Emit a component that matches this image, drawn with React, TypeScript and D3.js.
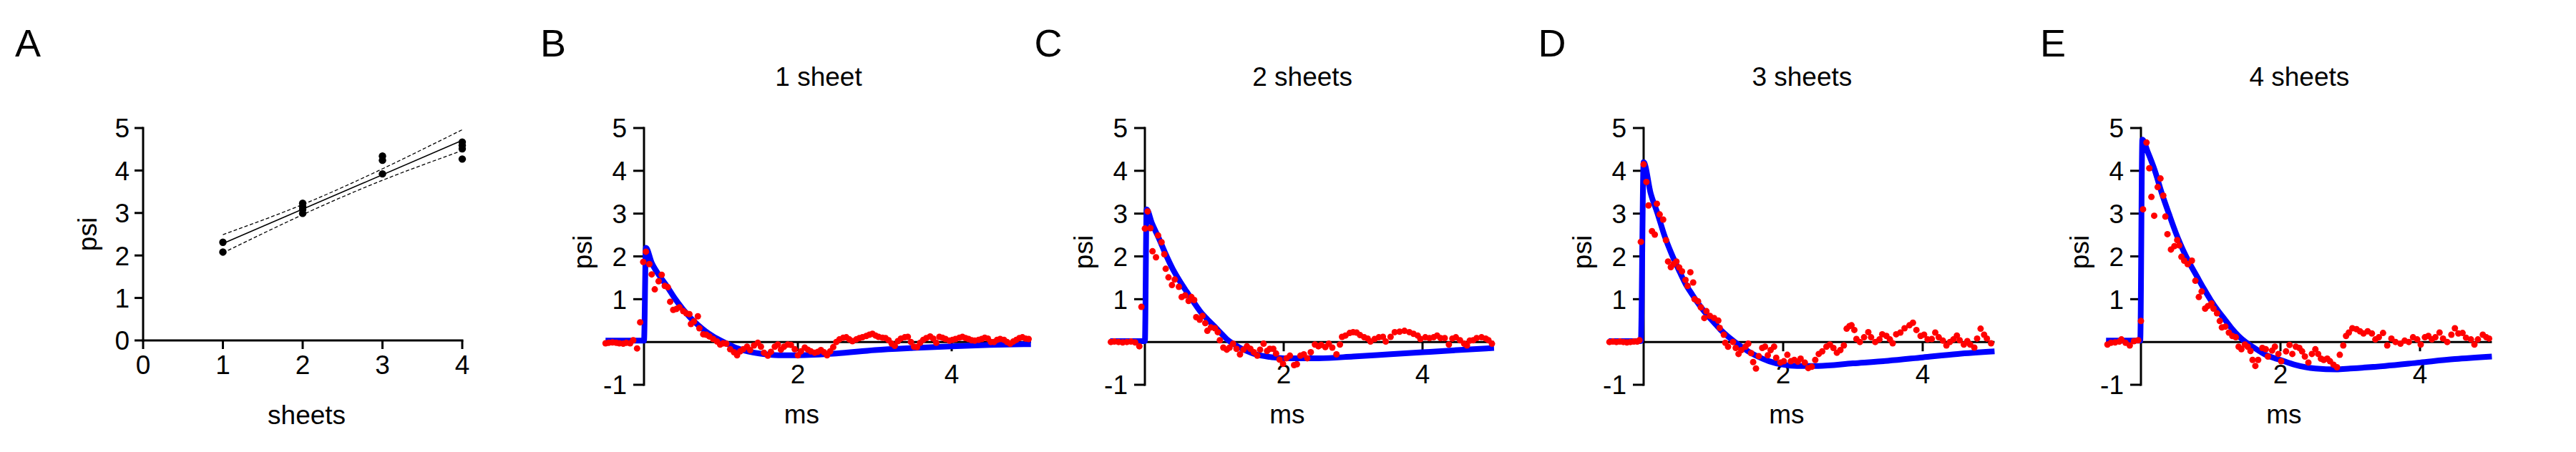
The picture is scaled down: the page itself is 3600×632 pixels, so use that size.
import { useEffect, useRef } from "react";
import * as d3 from "d3";

// ---- Panel A: peak pressure vs number of sheets ----
const sheetCounts = [1, 2, 3, 4];
const peakPsi = [
  [2.31, 2.08],
  [3.23, 3.15, 3.08, 2.99],
  [4.34, 4.24, 3.92],
  [4.67, 4.59, 4.51, 4.27],
];
const fitLine: [number, number][] = [[1, 2.28], [4, 4.71]];
const ciUpper: [number, number][] = [[1, 2.49], [2, 3.2], [3, 4.04], [4, 4.96]];
const ciLower: [number, number][] = [[1, 2.06], [2, 2.96], [3, 3.77], [4, 4.47]];

// ---- Panels B-E: pressure traces (ms, psi) ----
const titles = ["1 sheet", "2 sheets", "3 sheets", "4 sheets"];
const letters = ["A", "B", "C", "D", "E"];

const traceB: [number, number][] = [
  [-0.5, -0.03], [-0.46, -0.02], [-0.41, -0.01], [-0.36, -0.02], [-0.32, -0.03], [-0.27, -0.04], [-0.23, -0.02], [-0.18, -0.03], [-0.14, 0.04], [-0.09, -0.15],
  [-0.05, 0.46], [-0.01, 1.87], [0.025, 2.11], [0.07, 1.82], [0.1, 1.58], [0.14, 1.23], [0.19, 1.42], [0.23, 1.57], [0.27, 1.31], [0.31, 1.28],
  [0.34, 0.94], [0.38, 0.75], [0.42, 0.77], [0.46, 0.81], [0.51, 0.72], [0.55, 0.67], [0.59, 0.65], [0.61, 0.42], [0.65, 0.48], [0.7, 0.6],
  [0.72, 0.32], [0.77, 0.18], [0.81, 0.17], [0.85, 0.13], [0.9, 0.07], [0.95, 0.01], [0.99, -0.06], [1.03, -0.03], [1.07, -0.04], [1.12, -0.17],
  [1.17, -0.24], [1.21, -0.31], [1.25, -0.22], [1.29, -0.17], [1.34, -0.11], [1.38, -0.19], [1.43, -0.08], [1.48, -0.02], [1.52, -0.11], [1.56, -0.25],
  [1.61, -0.32], [1.65, -0.23], [1.7, -0.11], [1.74, -0.06], [1.78, -0.18], [1.82, -0.11], [1.87, -0.06], [1.91, -0.07], [1.96, -0.17], [2.0, -0.31],
  [2.04, -0.22], [2.09, -0.13], [2.13, -0.18], [2.17, -0.22], [2.22, -0.25], [2.26, -0.23], [2.3, -0.19], [2.34, -0.24], [2.38, -0.31], [2.42, -0.22],
  [2.46, -0.12], [2.5, 0.0], [2.54, 0.06], [2.59, 0.1], [2.63, 0.11], [2.67, 0.06], [2.71, 0.02], [2.76, 0.06], [2.8, 0.09], [2.84, 0.11],
  [2.89, 0.14], [2.93, 0.17], [2.97, 0.19], [3.01, 0.15], [3.05, 0.12], [3.1, 0.1], [3.14, 0.09], [3.18, 0.04], [3.22, -0.04], [3.26, -0.09],
  [3.3, 0.02], [3.34, 0.08], [3.39, 0.11], [3.43, 0.12], [3.47, 0.0], [3.51, -0.11], [3.55, -0.12], [3.59, -0.02], [3.63, 0.05], [3.67, 0.09],
  [3.72, 0.13], [3.76, 0.08], [3.8, -0.02], [3.84, 0.12], [3.88, 0.1], [3.92, 0.07], [3.97, 0.03], [4.01, 0.05], [4.05, 0.07], [4.1, 0.1],
  [4.14, 0.12], [4.18, 0.09], [4.22, 0.07], [4.26, 0.04], [4.3, 0.03], [4.35, 0.05], [4.39, 0.07], [4.43, 0.1], [4.47, 0.08], [4.51, 0.0],
  [4.55, 0.0], [4.59, 0.05], [4.63, 0.07], [4.68, 0.05], [4.72, 0.0], [4.76, -0.04], [4.8, 0.01], [4.84, 0.05], [4.88, 0.09], [4.92, 0.11],
  [4.96, 0.08], [5.0, 0.07],
];
const fitB: [number, number][] = [
  [-0.5, 0.03], [0, 0.03], [0.025, 2.2], [0.1, 1.85], [0.2, 1.55], [0.3, 1.3], [0.4, 1.02], [0.5, 0.78], [0.6, 0.57], [0.7, 0.4],
  [0.8, 0.25], [0.9, 0.13], [1.0, 0.03], [1.1, -0.06], [1.2, -0.14], [1.35, -0.22], [1.5, -0.27], [1.75, -0.31], [2.0, -0.31], [2.5, -0.27],
  [3.0, -0.19], [3.5, -0.14], [4.0, -0.1], [4.5, -0.07], [5.03, -0.05],
];

const traceC: [number, number][] = [
  [-0.49, 0.0], [-0.44, 0.01], [-0.38, 0.0], [-0.32, -0.01], [-0.26, 0.0], [-0.2, 0.01], [-0.14, -0.01], [-0.08, -0.1], [-0.05, 0.82], [0.0, 2.65],
  [0.04, 3.05], [0.08, 2.66], [0.11, 2.12], [0.16, 1.98], [0.19, 2.49], [0.24, 2.33], [0.28, 2.05], [0.3, 1.71], [0.34, 1.51], [0.39, 1.33],
  [0.43, 1.46], [0.49, 1.29], [0.53, 1.05], [0.58, 1.09], [0.63, 0.96], [0.67, 1.05], [0.71, 0.98], [0.74, 0.58], [0.79, 0.52], [0.83, 0.61],
  [0.87, 0.44], [0.9, 0.26], [0.95, 0.34], [1.01, 0.32], [1.05, 0.23], [1.08, 0.04], [1.13, -0.13], [1.18, -0.18], [1.22, -0.13], [1.27, -0.04],
  [1.32, -0.16], [1.37, -0.29], [1.42, -0.18], [1.47, -0.1], [1.52, -0.16], [1.57, -0.24], [1.62, -0.32], [1.66, -0.18], [1.71, -0.04], [1.76, -0.21],
  [1.8, -0.16], [1.85, -0.16], [1.89, -0.27], [1.94, -0.41], [1.99, -0.51], [2.04, -0.38], [2.09, -0.32], [2.15, -0.54], [2.19, -0.52], [2.24, -0.32],
  [2.29, -0.29], [2.34, -0.38], [2.39, -0.24], [2.45, -0.06], [2.5, -0.1], [2.54, -0.07], [2.6, -0.12], [2.65, -0.04], [2.7, -0.13], [2.76, -0.29],
  [2.81, -0.06], [2.84, 0.12], [2.89, 0.15], [2.95, 0.21], [3.0, 0.23], [3.05, 0.22], [3.1, 0.16], [3.16, 0.11], [3.21, 0.08], [3.25, 0.01],
  [3.31, 0.07], [3.37, 0.11], [3.43, 0.12], [3.47, 0.01], [3.54, 0.12], [3.6, 0.23], [3.67, 0.24], [3.74, 0.26], [3.81, 0.23], [3.87, 0.19],
  [3.93, 0.15], [3.97, 0.07], [4.04, 0.11], [4.1, 0.09], [4.16, 0.11], [4.21, 0.15], [4.26, 0.09], [4.32, 0.09], [4.38, -0.06], [4.43, 0.08],
  [4.48, 0.11], [4.54, 0.04], [4.6, -0.04], [4.64, -0.08], [4.68, 0.03], [4.73, 0.04], [4.78, 0.09], [4.85, 0.11], [4.91, 0.08], [4.95, 0.04],
  [5.0, -0.04],
];
const fitC: [number, number][] = [
  [-0.5, 0.02], [0, 0.02], [0.025, 3.1], [0.1, 2.78], [0.2, 2.43], [0.3, 2.05], [0.4, 1.71], [0.5, 1.43], [0.6, 1.18], [0.7, 0.94],
  [0.8, 0.71], [0.9, 0.53], [1.0, 0.37], [1.1, 0.2], [1.2, 0.04], [1.3, -0.07], [1.4, -0.16], [1.5, -0.23], [1.6, -0.29], [1.8, -0.35],
  [2.0, -0.38], [2.5, -0.38], [3.0, -0.34], [3.5, -0.29], [4.0, -0.24], [4.5, -0.19], [5.03, -0.14],
];

const traceD: [number, number][] = [
  [-0.49, 0.0], [-0.44, 0.01], [-0.39, 0.0], [-0.34, 0.01], [-0.29, 0.0], [-0.24, -0.01], [-0.19, 0.0], [-0.14, 0.01], [-0.09, 0.01], [-0.06, 0.04],
  [-0.04, 2.34], [0.0, 4.15], [0.04, 3.74], [0.07, 3.19], [0.12, 2.59], [0.16, 2.51], [0.19, 3.23], [0.23, 2.98], [0.28, 2.86], [0.32, 2.38],
  [0.35, 1.88], [0.39, 1.75], [0.43, 1.82], [0.47, 1.88], [0.51, 1.74], [0.55, 1.65], [0.6, 1.45], [0.63, 1.31], [0.67, 1.63], [0.71, 1.39],
  [0.73, 1.0], [0.78, 0.95], [0.82, 0.81], [0.87, 0.56], [0.9, 0.72], [0.95, 0.61], [1.01, 0.56], [1.07, 0.5], [1.09, 0.33], [1.15, 0.17],
  [1.17, -0.02], [1.21, -0.11], [1.28, 0.0], [1.32, -0.14], [1.36, -0.28], [1.4, -0.19], [1.46, -0.11], [1.5, -0.04], [1.54, -0.26], [1.57, -0.47],
  [1.61, -0.62], [1.65, -0.33], [1.7, -0.14], [1.74, -0.11], [1.78, -0.31], [1.82, -0.19], [1.87, -0.11], [1.9, -0.37], [1.96, -0.48], [2.01, -0.45],
  [2.06, -0.3], [2.11, -0.45], [2.16, -0.42], [2.21, -0.46], [2.25, -0.39], [2.31, -0.48], [2.36, -0.61], [2.41, -0.58], [2.46, -0.42], [2.51, -0.28],
  [2.56, -0.22], [2.62, -0.11], [2.67, -0.06], [2.72, -0.14], [2.77, -0.25], [2.82, -0.19], [2.87, -0.08], [2.91, 0.31], [2.95, 0.37], [2.98, 0.39],
  [3.02, 0.28], [3.05, 0.07], [3.1, 0.0], [3.16, 0.11], [3.22, 0.23], [3.26, 0.11], [3.32, 0.0], [3.38, 0.06], [3.42, 0.18], [3.48, 0.14],
  [3.53, 0.06], [3.57, -0.03], [3.62, 0.18], [3.68, 0.22], [3.74, 0.32], [3.81, 0.39], [3.86, 0.45], [3.91, 0.28], [3.97, 0.14], [4.02, 0.17],
  [4.07, 0.06], [4.13, 0.07], [4.18, 0.22], [4.23, 0.11], [4.29, 0.03], [4.34, -0.08], [4.39, 0.0], [4.44, 0.06], [4.49, 0.15], [4.53, 0.04],
  [4.59, -0.06], [4.64, 0.02], [4.68, -0.06], [4.74, -0.13], [4.78, 0.08], [4.83, 0.31], [4.88, 0.17], [4.92, 0.08], [4.98, -0.03],
];
const fitD: [number, number][] = [
  [-0.5, 0.02], [-0.04, 0.02], [0.0, 4.2], [0.1, 3.48], [0.2, 3.0], [0.3, 2.48], [0.4, 2.06], [0.5, 1.7], [0.6, 1.36], [0.7, 1.1],
  [0.8, 0.86], [0.9, 0.65], [1.0, 0.47], [1.1, 0.29], [1.2, 0.14], [1.3, 0.01], [1.4, -0.11], [1.5, -0.22], [1.6, -0.31], [1.8, -0.45],
  [2.0, -0.53], [2.2, -0.56], [2.5, -0.56], [3.0, -0.5], [3.5, -0.44], [4.0, -0.36], [4.5, -0.28], [5.03, -0.22],
];

const traceE: [number, number][] = [
  [-0.48, -0.06], [-0.43, -0.02], [-0.37, -0.01], [-0.31, 0.01], [-0.28, 0.06], [-0.22, -0.02], [-0.16, -0.08], [-0.1, 0.02], [-0.04, 0.04], [0.0, 0.49],
  [0.03, 3.1], [0.08, 4.66], [0.12, 4.06], [0.15, 3.39], [0.19, 2.95], [0.24, 3.62], [0.28, 3.82], [0.32, 3.42], [0.35, 2.93], [0.38, 2.52],
  [0.43, 2.16], [0.48, 2.24], [0.52, 2.38], [0.55, 2.26], [0.58, 1.99], [0.62, 1.9], [0.67, 1.82], [0.73, 1.9], [0.78, 1.43], [0.83, 1.05],
  [0.87, 1.18], [0.92, 0.78], [0.96, 0.84], [1.01, 0.9], [1.04, 0.78], [1.09, 0.67], [1.13, 0.49], [1.16, 0.34], [1.21, 0.36], [1.26, 0.22],
  [1.31, 0.14], [1.36, 0.11], [1.4, -0.11], [1.44, -0.17], [1.49, -0.06], [1.53, -0.11], [1.57, -0.21], [1.6, -0.42], [1.64, -0.56], [1.68, -0.42],
  [1.74, -0.14], [1.79, -0.17], [1.82, -0.34], [1.88, -0.2], [1.92, -0.11], [1.97, -0.28], [2.01, -0.45], [2.08, -0.22], [2.13, -0.07], [2.17, -0.28],
  [2.22, -0.11], [2.27, -0.14], [2.31, -0.22], [2.35, -0.34], [2.4, -0.48], [2.45, -0.28], [2.5, -0.17], [2.54, -0.28], [2.58, -0.39], [2.62, -0.42],
  [2.67, -0.39], [2.71, -0.45], [2.76, -0.53], [2.81, -0.59], [2.85, -0.3], [2.9, -0.08], [2.94, 0.14], [2.98, 0.22], [3.03, 0.32], [3.09, 0.3],
  [3.14, 0.25], [3.19, 0.2], [3.25, 0.25], [3.31, 0.2], [3.36, 0.06], [3.41, 0.11], [3.47, 0.21], [3.53, -0.08], [3.59, 0.08], [3.65, 0.0],
  [3.72, -0.04], [3.78, 0.03], [3.84, 0.0], [3.9, 0.11], [3.96, 0.06], [4.01, -0.06], [4.07, 0.11], [4.12, 0.14], [4.17, 0.06], [4.22, 0.11],
  [4.28, 0.22], [4.33, 0.08], [4.39, 0.0], [4.45, 0.17], [4.5, 0.32], [4.55, 0.2], [4.61, 0.21], [4.66, 0.1], [4.73, 0.06], [4.78, -0.06],
  [4.83, 0.06], [4.9, 0.17], [4.95, 0.11], [4.99, 0.08],
];
const fitE: [number, number][] = [
  [-0.5, 0.03], [-0.01, 0.03], [0.02, 4.73], [0.1, 4.43], [0.2, 4.0], [0.3, 3.47], [0.4, 3.0], [0.5, 2.55], [0.6, 2.16], [0.7, 1.83],
  [0.8, 1.54], [0.9, 1.25], [1.0, 0.98], [1.1, 0.74], [1.2, 0.53], [1.3, 0.32], [1.4, 0.14], [1.5, 0.0], [1.6, -0.11], [1.8, -0.31],
  [2.0, -0.42], [2.2, -0.53], [2.5, -0.62], [2.8, -0.64], [3.0, -0.62], [3.5, -0.56], [4.0, -0.48], [4.5, -0.4], [5.03, -0.34],
];

const traces = [traceB, traceC, traceD, traceE];
const fits = [fitB, fitC, fitD, fitE];

// layout: where each trace panel sits (x of t=0, px per ms)
const panelZero = [900, 1600, 2297, 2992];
const panelPxPerMs = [107.5, 97, 97.5, 97.5];
const letterX = [39, 773, 1465, 2169, 2869];

const FONT = "'Liberation Sans', Arial, Helvetica, sans-serif";
const AXIS_W = 3;
const FS = 37;

export default function App() {
  const svgRef = useRef<SVGSVGElement>(null);

  useEffect(() => {
    const svg = d3.select(svgRef.current);
    svg.selectAll("*").remove();
    svg.attr("font-family", FONT);

    // panel letters
    svg.selectAll("text.letter").data(letters).enter().append("text")
      .attr("class", "letter")
      .attr("x", (_, i) => letterX[i]).attr("y", 79)
      .attr("text-anchor", "middle").attr("font-size", 54).text((d) => d);

    // ---------- Panel A ----------
    const gA = svg.append("g");
    const xA = d3.scaleLinear().domain([0, 4]).range([200, 646]);
    const yA = d3.scaleLinear().domain([0, 5]).range([476, 179]);
    const tickA = 12;

    gA.append("line").attr("x1", xA(0)).attr("x2", xA(4)).attr("y1", yA(0)).attr("y2", yA(0))
      .attr("stroke", "#000").attr("stroke-width", AXIS_W).attr("stroke-linecap", "square");
    gA.append("line").attr("x1", xA(0)).attr("x2", xA(0)).attr("y1", yA(0)).attr("y2", yA(5))
      .attr("stroke", "#000").attr("stroke-width", AXIS_W).attr("stroke-linecap", "square");
    const xtA = [0, 1, 2, 3, 4];
    gA.selectAll("line.xt").data(xtA).enter().append("line")
      .attr("x1", (d) => xA(d)).attr("x2", (d) => xA(d)).attr("y1", yA(0)).attr("y2", yA(0) + tickA)
      .attr("stroke", "#000").attr("stroke-width", AXIS_W);
    gA.selectAll("text.xt").data(xtA).enter().append("text")
      .attr("x", (d) => xA(d)).attr("y", 523).attr("text-anchor", "middle").attr("font-size", FS).text((d) => d);
    const ytA = [0, 1, 2, 3, 4, 5];
    gA.selectAll("line.yt").data(ytA).enter().append("line")
      .attr("x1", xA(0) - tickA).attr("x2", xA(0)).attr("y1", (d) => yA(d)).attr("y2", (d) => yA(d))
      .attr("stroke", "#000").attr("stroke-width", AXIS_W);
    gA.selectAll("text.yt").data(ytA).enter().append("text")
      .attr("x", xA(0) - 19).attr("y", (d) => yA(d)).attr("dy", "0.36em")
      .attr("text-anchor", "end").attr("font-size", FS).text((d) => d);
    gA.append("text").attr("x", xA(2.05)).attr("y", 593).attr("text-anchor", "middle")
      .attr("font-size", FS).text("sheets");
    gA.append("text").attr("transform", `translate(${xA(0) - 78},${yA(2.5)}) rotate(-90)`)
      .attr("text-anchor", "middle").attr("dy", "0.36em").attr("font-size", FS).text("psi");

    // linear fit and its confidence band
    const lineA = d3.line<[number, number]>().x((d) => xA(d[0])).y((d) => yA(d[1]));
    const bandA = d3.line<[number, number]>().x((d) => xA(d[0])).y((d) => yA(d[1])).curve(d3.curveNatural);
    gA.append("path").attr("d", lineA(fitLine)).attr("fill", "none").attr("stroke", "#000").attr("stroke-width", 1.6);
    [ciUpper, ciLower].forEach((c) => {
      gA.append("path").attr("d", bandA(c)).attr("fill", "none").attr("stroke", "#000")
        .attr("stroke-width", 1.3).attr("stroke-dasharray", "5,3");
    });
    const ptsA = sheetCounts.flatMap((s, i) => peakPsi[i].map((v) => [s, v] as [number, number]));
    gA.selectAll("circle").data(ptsA).enter().append("circle")
      .attr("cx", (d) => xA(d[0])).attr("cy", (d) => yA(d[1])).attr("r", 5.2).attr("fill", "#000");

    // ---------- Panels B-E ----------
    const tick = 15;
    traces.forEach((trace, i) => {
      const g = svg.append("g");
      const z = panelZero[i];
      const k = panelPxPerMs[i];
      const x = d3.scaleLinear().domain([0, 4]).range([z, z + 4 * k]);
      const y = d3.scaleLinear().domain([-1, 5]).range([538, 179]);

      g.append("text").attr("x", x(2.27)).attr("y", 120).attr("text-anchor", "middle")
        .attr("font-size", FS).text(titles[i]);

      // x axis crosses at y = 0, y axis at x = 0
      g.append("line").attr("x1", x(-0.5)).attr("x2", x(5.03)).attr("y1", y(0)).attr("y2", y(0))
        .attr("stroke", "#000").attr("stroke-width", AXIS_W);
      g.append("line").attr("x1", x(0)).attr("x2", x(0)).attr("y1", y(-1)).attr("y2", y(5))
        .attr("stroke", "#000").attr("stroke-width", AXIS_W).attr("stroke-linecap", "square");
      const xt = [2, 4];
      g.selectAll("line.xt").data(xt).enter().append("line")
        .attr("x1", (d) => x(d)).attr("x2", (d) => x(d)).attr("y1", y(0)).attr("y2", y(0) + 13)
        .attr("stroke", "#000").attr("stroke-width", AXIS_W);
      g.selectAll("text.xt").data(xt).enter().append("text")
        .attr("x", (d) => x(d)).attr("y", 536).attr("text-anchor", "middle").attr("font-size", FS).text((d) => d);
      const yt = [-1, 0, 1, 2, 3, 4, 5];
      g.selectAll("line.yt").data(yt).enter().append("line")
        .attr("x1", x(0) - tick).attr("x2", x(0)).attr("y1", (d) => y(d)).attr("y2", (d) => y(d))
        .attr("stroke", "#000").attr("stroke-width", AXIS_W);
      g.selectAll("text.yt").data(yt.filter((d) => d !== 0)).enter().append("text")
        .attr("x", x(0) - 24).attr("y", (d) => y(d)).attr("dy", "0.36em")
        .attr("text-anchor", "end").attr("font-size", FS).text((d) => d);
      g.append("text").attr("x", x(2.05)).attr("y", 592).attr("text-anchor", "middle")
        .attr("font-size", FS).text("ms");
      g.append("text").attr("transform", `translate(${x(0) - 86},${y(2.1)}) rotate(-90)`)
        .attr("text-anchor", "middle").attr("dy", "0.36em").attr("font-size", FS).text("psi");

      // fitted curve
      const line = d3.line<[number, number]>().x((d) => x(d[0])).y((d) => y(d[1])).curve(d3.curveMonotoneX);
      g.append("path").attr("d", line(fits[i])).attr("fill", "none").attr("stroke", "#0000ff")
        .attr("stroke-width", 8).attr("stroke-linejoin", "round");

      // measured trace
      g.selectAll("circle").data(trace).enter().append("circle")
        .attr("cx", (d) => x(d[0])).attr("cy", (d) => y(d[1])).attr("r", 4.5).attr("fill", "#ff0000");
    });
  }, []);

  return (
    <svg ref={svgRef} width={3600} height={632}
      style={{ position: "absolute", left: 0, top: 0, background: "#fff" }} />
  );
}
